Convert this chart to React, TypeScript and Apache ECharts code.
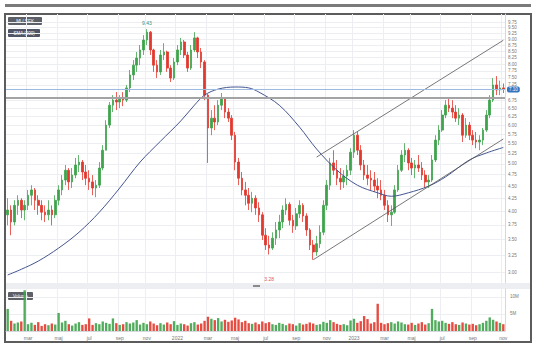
import React, { useEffect, useRef } from 'react';
import * as echarts from 'echarts';

// Weekly bars starting Monday 2021-01-18: [open, close, low, high]
const ohlc: number[][] = [
  [3.93,4.02,3.74,4.25],[4.02,3.80,3.57,4.11],[3.80,4.11,3.74,4.21],[4.11,4.21,3.93,4.31],[4.21,4.02,3.87,4.25],
  [4.02,4.11,3.83,4.21],[4.11,4.31,4.02,4.42],[4.31,4.42,4.11,4.52],[4.42,4.21,4.02,4.46],[4.21,4.11,3.93,4.31],
  [4.11,3.98,3.83,4.21],[3.98,3.93,3.80,4.11],[3.93,4.02,3.83,4.21],[4.02,3.93,3.74,4.11],[3.93,4.21,3.87,4.31],
  [4.21,4.42,4.11,4.52],[4.42,4.63,4.31,4.74],[4.63,4.85,4.52,4.97],[4.85,4.59,4.42,4.90],[4.59,4.74,4.46,4.90],
  [4.74,4.97,4.67,5.14],[4.97,5.04,4.81,5.21],[5.04,4.81,4.63,5.09],[4.81,4.67,4.52,4.97],[4.67,4.59,4.42,4.85],
  [4.59,4.46,4.31,4.74],[4.46,4.52,4.27,4.63],[4.52,4.90,4.46,5.04],[4.90,5.33,4.85,5.46],[5.33,6.00,5.33,6.14],
  [6.00,6.59,5.92,6.69],[6.59,6.75,6.38,6.91],[6.75,6.69,6.44,7.01],[6.69,6.81,6.50,6.91],[6.81,6.75,6.56,7.01],
  [6.75,7.15,6.69,7.25],[7.15,7.60,7.01,7.78],[7.60,7.96,7.42,8.15],[7.96,8.23,7.71,8.47],[8.23,8.55,7.96,8.75],
  [8.55,8.96,8.35,9.17],[8.96,9.30,8.75,9.43],[9.30,8.55,8.35,9.35],[8.55,7.96,7.71,8.60],[7.96,7.71,7.49,8.15],
  [7.71,8.35,7.60,8.55],[8.35,8.47,8.15,8.83],[8.47,7.85,7.71,8.52],[7.85,7.49,7.35,7.96],[7.49,8.08,7.42,8.23],
  [8.08,8.55,7.96,8.75],[8.55,8.88,8.35,9.05],[8.88,8.35,8.23,8.96],[8.35,7.85,7.71,8.47],[7.85,8.55,7.78,8.75],
  [8.55,9.05,8.47,9.30],[9.05,8.47,8.23,9.10],[8.47,8.08,7.85,8.63],[8.08,6.91,6.75,8.15],[6.91,5.92,5.02,6.95],
  [5.92,6.20,5.72,6.44],[6.20,6.09,5.86,6.59],[6.09,6.59,6.00,6.75],[6.59,6.81,6.44,6.98],[6.81,6.38,6.20,6.85],
  [6.38,6.20,6.09,6.50],[6.20,5.72,5.59,6.29],[5.72,5.04,4.85,5.81],[5.04,4.67,4.52,5.14],[4.67,4.42,4.31,4.81],
  [4.42,4.31,4.11,4.59],[4.31,4.15,4.02,4.46],[4.15,4.25,3.98,4.38],[4.25,4.06,3.93,4.31],[4.06,3.93,3.80,4.17],
  [3.93,3.57,3.49,3.98],[3.57,3.41,3.33,3.69],[3.41,3.36,3.26,3.56],[3.36,3.52,3.33,3.62],[3.52,3.66,3.41,3.80],
  [3.66,3.80,3.52,3.93],[3.80,4.02,3.69,4.11],[4.02,4.13,3.93,4.25],[4.13,3.83,3.74,4.17],[3.83,3.73,3.61,3.93],
  [3.73,3.95,3.66,4.06],[3.95,4.11,3.87,4.21],[4.11,3.91,3.80,4.15],[3.91,3.66,3.56,3.96],[3.66,3.41,3.33,3.69],
  [3.41,3.30,3.18,3.49],[3.30,3.43,3.24,3.56],[3.43,3.62,3.36,3.74],[3.62,4.11,3.57,4.21],[4.11,4.52,4.02,4.63],
  [4.52,5.02,4.42,5.14],[5.02,4.85,4.74,5.33],[4.85,4.67,4.52,5.09],[4.67,4.59,4.42,4.90],[4.59,4.72,4.46,4.85],
  [4.72,4.85,4.52,4.97],[4.85,5.28,4.74,5.38],[5.28,5.72,5.14,5.86],[5.72,5.33,5.21,5.81],[5.33,4.97,4.85,5.46],
  [4.97,4.74,4.63,5.09],[4.74,4.67,4.52,4.97],[4.67,4.63,4.42,4.85],[4.63,4.50,4.38,4.81],[4.50,4.42,4.25,4.67],
  [4.42,4.31,4.21,4.63],[4.31,4.11,4.02,4.42],[4.11,3.93,3.80,4.21],[3.93,3.98,3.73,4.11],[3.98,4.42,3.95,4.52],
  [4.42,4.85,4.38,4.97],[4.85,5.21,4.81,5.33],[5.21,5.33,5.04,5.51],[5.33,5.02,4.85,5.38],[5.02,4.90,4.74,5.14],
  [4.90,4.97,4.67,5.09],[4.97,4.90,4.81,5.21],[4.90,4.74,4.63,5.04],[4.74,4.59,4.46,4.85],[4.59,4.63,4.46,4.74],
  [4.63,5.09,4.59,5.21],[5.09,5.59,5.04,5.72],[5.59,5.86,5.46,6.00],[5.86,6.29,5.81,6.44],[6.29,6.59,6.20,6.75],
  [6.59,6.50,6.38,6.85],[6.50,6.38,6.20,6.75],[6.38,6.20,6.09,6.59],[6.20,6.29,6.00,6.50],[6.29,5.72,5.54,6.35],
  [5.72,6.00,5.65,6.20],[6.00,5.72,5.59,6.09],[5.72,5.59,5.46,5.86],[5.59,5.54,5.38,5.81],[5.54,5.59,5.33,5.72],
  [5.59,5.86,5.46,5.92],[5.86,6.29,5.81,6.44],[6.29,6.75,6.20,6.91],[6.75,7.25,6.69,7.49],[7.25,7.08,6.91,7.56],
  [7.08,7.15,6.91,7.40],[7.15,7.10,6.98,7.30],
];

// Volume in millions, one per week
const volumes: number[] = [
  6.5,3.0,2.2,2.5,2.8,12.0,2.0,2.4,1.8,2.6,1.5,2.0,1.7,2.2,1.9,5.3,2.5,3.0,2.0,1.6,
  2.2,2.6,1.8,2.0,3.7,1.8,2.3,2.0,2.8,2.4,2.1,3.7,2.3,1.8,2.0,2.6,2.2,2.5,3.2,1.9,
  2.4,2.0,2.8,2.2,1.7,2.3,1.9,2.5,2.0,2.9,1.8,2.2,2.0,1.6,2.3,2.6,1.9,2.2,3.0,4.2,
  3.6,3.2,3.8,2.8,3.3,2.7,3.1,3.9,3.4,2.6,3.0,2.3,2.1,2.5,2.0,2.8,2.3,2.6,2.0,1.8,
  2.4,2.1,1.7,2.2,2.0,1.6,2.3,1.9,2.1,2.5,2.2,1.8,2.0,2.7,2.4,3.2,2.6,2.1,1.8,2.0,
  1.7,3.1,3.6,2.4,2.9,4.4,3.5,2.2,2.6,8.0,2.4,2.0,2.3,2.6,2.2,2.8,2.5,2.0,1.9,2.4,
  1.8,2.2,2.6,1.9,2.3,6.5,3.2,2.8,3.0,2.4,2.1,2.6,2.0,1.8,2.5,2.2,1.9,2.1,1.7,2.0,
  2.4,3.0,4.0,3.3,2.8,2.4,2.0,
];

// 200-day SMA: [week index, price]
const smaPoints: number[][] = [
  [0,2.96],[4,3.04],[9,3.16],[15,3.36],[21,3.62],[27,3.98],[33,4.46],[39,5.04],[45,5.56],[51,6.12],
  [55,6.59],[58,6.91],[62,7.11],[67,7.18],[71,7.15],[74,7.01],[80,6.59],[86,5.94],[91,5.36],[97,4.85],
  [103,4.52],[109,4.36],[113,4.29],[118,4.36],[124,4.50],[129,4.70],[136,5.09],[141,5.26],[146,5.40],
];

const upperChannel: number[][] = [[91,5.16],[146,8.95]];
const lowerChannel: number[][] = [[90,3.18],[146,5.62]];

const priceTicks: number[] = [
  9.75,9.5,9.25,9.0,8.75,8.5,8.25,8.0,7.75,7.5,7.25,6.75,6.5,6.25,6.0,
  5.75,5.5,5.25,5.0,4.75,4.5,4.25,4.0,3.75,3.5,3.25,3.0,
];
const volumeTicks: number[] = [5, 10];
const lastPrice = 7.10;
const levelPrice = 6.82;
const highMark = { index: 41, value: 9.43, text: '9.43' };
const lowMark = { index: 77, value: 3.26, text: '3.28' };
const monthNames = ['jan','feb','mar','apr','maj','jun','jul','aug','sep','okt','nov','dec'];
const firstWeek = Date.UTC(2021, 0, 18);

const L = Math.log;
const GREEN = '#3fa34d';
const RED = '#e2382e';
const FONT = 'Liberation Sans, Arial, sans-serif';

const categories: string[] = [];
const tickLabels: string[] = [];
for (let i = 0; i < ohlc.length; i++) {
  const d = new Date(firstWeek + i * 7 * 86400000);
  categories.push(d.toISOString().slice(0, 10));
  const prev = i > 0 ? new Date(firstWeek + (i - 1) * 7 * 86400000) : null;
  const m = d.getUTCMonth();
  let lab = '';
  if (prev && prev.getUTCMonth() !== m && m % 2 === 0) {
    lab = m === 0 ? String(d.getUTCFullYear()) : monthNames[m];
  }
  tickLabels.push(lab);
}
const showTick = (idx: number) => tickLabels[idx] !== '';

export default function App() {
  const ref = useRef<HTMLDivElement>(null);
  useEffect(() => {
    if (!ref.current) return;
    const chart = echarts.init(ref.current, undefined, { renderer: 'svg' });
    const gridLine = { show: true, lineStyle: { color: '#eceef2', width: 1 } };
    const option: any = {
      animation: false,
      backgroundColor: '#ffffff',
      textStyle: { fontFamily: FONT },
      grid: [
        { left: 6, right: 31, top: 14, height: 269 },
        { left: 6, right: 31, top: 289, height: 42 },
      ],
      xAxis: [
        {
          type: 'category', gridIndex: 0, data: categories, boundaryGap: true,
          axisLabel: { show: false }, axisTick: { show: false }, axisLine: { show: false },
          splitLine: { ...gridLine, interval: (i: number) => showTick(i) },
        },
        {
          type: 'category', gridIndex: 1, data: categories, boundaryGap: true,
          axisLine: { show: true, lineStyle: { color: '#d5d8dd' } },
          axisTick: { show: false },
          axisLabel: {
            show: true, interval: (i: number) => showTick(i),
            formatter: (_v: string, i: number) => tickLabels[i],
            fontSize: 5, color: '#777', margin: 4, fontFamily: FONT,
          },
          splitLine: { ...gridLine, interval: (i: number) => showTick(i) },
        },
      ],
      yAxis: [
        {
          type: 'value', gridIndex: 0, position: 'right', min: L(2.85), max: L(10.13),
          axisLine: { show: true, lineStyle: { color: '#d5d8dd' } },
          axisTick: { show: false, customValues: priceTicks.map(L) },
          axisLabel: {
            customValues: priceTicks.map(L),
            formatter: (v: number) => Math.exp(v).toFixed(2),
            fontSize: 4.5, color: '#777', margin: 3, fontFamily: FONT,
          },
          splitLine: gridLine,
        },
        {
          type: 'value', gridIndex: 1, position: 'right', min: 0, max: 12.35,
          axisLine: { show: true, lineStyle: { color: '#d5d8dd' } },
          axisTick: { show: false, customValues: volumeTicks },
          axisLabel: {
            customValues: volumeTicks, formatter: (v: number) => v + 'M',
            fontSize: 4.5, color: '#777', margin: 5, fontFamily: FONT,
          },
          splitLine: gridLine,
        },
      ],
      series: [
        {
          type: 'candlestick', xAxisIndex: 0, yAxisIndex: 0,
          data: ohlc.map((r) => r.map(L)),
          barWidth: '62%',
          itemStyle: { color: GREEN, color0: RED, borderColor: GREEN, borderColor0: RED, borderWidth: 0.8 },
          markLine: {
            silent: true, symbol: 'none',
            data: [
              {
                yAxis: L(levelPrice),
                lineStyle: { color: '#a3a3a3', width: 2, type: 'solid' },
                label: { show: false },
              },
              {
                yAxis: L(lastPrice),
                lineStyle: { color: '#9dbbe0', width: 1, type: 'solid' },
                label: {
                  show: true, position: 'end', formatter: lastPrice.toFixed(2),
                  backgroundColor: '#2f74c0', color: '#fff', fontSize: 4.5,
                  padding: [0.5, 2], borderRadius: 2, distance: 2, fontFamily: FONT,
                },
              },
            ],
          },
          markPoint: {
            silent: true,
            symbol: 'circle', symbolSize: 1,
            itemStyle: { color: 'rgba(0,0,0,0)' },
            data: [
              {
                coord: [highMark.index, L(highMark.value)],
                label: { show: true, formatter: highMark.text, position: 'top', distance: 3, color: '#3b8f74', fontSize: 5, fontFamily: FONT },
              },
              {
                coord: [lowMark.index, L(lowMark.value)],
                label: { show: true, formatter: lowMark.text, position: 'bottom', distance: 22, color: '#e2564a', fontSize: 5, fontFamily: FONT },
              },
            ],
          },
          z: 3,
        },
        {
          type: 'line', xAxisIndex: 0, yAxisIndex: 0, name: 'SMA',
          data: smaPoints.map(([i, v]) => [i, L(v)]),
          smooth: 0.35, symbol: 'none', silent: true,
          lineStyle: { color: '#44558f', width: 1 }, z: 4,
        },
        {
          type: 'line', xAxisIndex: 0, yAxisIndex: 0,
          data: upperChannel.map(([i, v]) => [i, L(v)]),
          symbol: 'none', silent: true, lineStyle: { color: '#555', width: 0.8 }, z: 4,
        },
        {
          type: 'line', xAxisIndex: 0, yAxisIndex: 0,
          data: lowerChannel.map(([i, v]) => [i, L(v)]),
          symbol: 'none', silent: true, lineStyle: { color: '#555', width: 0.8 }, z: 4,
        },
        {
          type: 'bar', xAxisIndex: 1, yAxisIndex: 1, barWidth: '70%',
          data: volumes.map((v, i) => ({
            value: v,
            itemStyle: { color: ohlc[i][1] >= ohlc[i][0] ? GREEN : RED, opacity: 0.9 },
          })),
        },
      ],
      graphic: [
        { type: 'rect', shape: { x: 5, y: 4, width: 526, height: 3 }, style: { fill: '#7a7a7a' }, silent: true },
        { type: 'rect', shape: { x: 6, y: 283, width: 524, height: 6 }, style: { fill: '#eceef1' }, silent: true },
        { type: 'rect', shape: { x: 253, y: 285, width: 7, height: 2 }, style: { fill: '#8a8a8a' }, silent: true },
        { type: 'rect', shape: { x: 5, y: 14, width: 526, height: 328 }, style: { fill: 'none', stroke: '#5c5c5c', lineWidth: 2 }, silent: true },
        { type: 'rect', shape: { x: 8, y: 17, width: 34, height: 8, r: 1 }, style: { fill: '#5d6066' }, silent: true },
        { type: 'text', x: 25, y: 21, style: { text: 'MI / SEK', fill: '#fff', fontSize: 4.5, align: 'center', verticalAlign: 'middle', fontFamily: FONT }, silent: true },
        { type: 'rect', shape: { x: 8, y: 29, width: 32, height: 8, r: 1 }, style: { fill: '#4f5566' }, silent: true },
        { type: 'text', x: 24, y: 33, style: { text: 'SMA (200)', fill: '#fff', fontSize: 4.5, align: 'center', verticalAlign: 'middle', fontFamily: FONT }, silent: true },
        { type: 'rect', shape: { x: 8, y: 292, width: 25, height: 8, r: 1 }, style: { fill: '#5d6066' }, silent: true },
        { type: 'text', x: 20.5, y: 296, style: { text: 'Volume', fill: '#fff', fontSize: 4.5, align: 'center', verticalAlign: 'middle', fontFamily: FONT }, silent: true },
      ],
    };
    chart.setOption(option);
    return () => chart.dispose();
  }, []);
  return <div ref={ref} style={{ position: 'fixed', left: 0, top: 0, width: 536, height: 354 }} />;
}
